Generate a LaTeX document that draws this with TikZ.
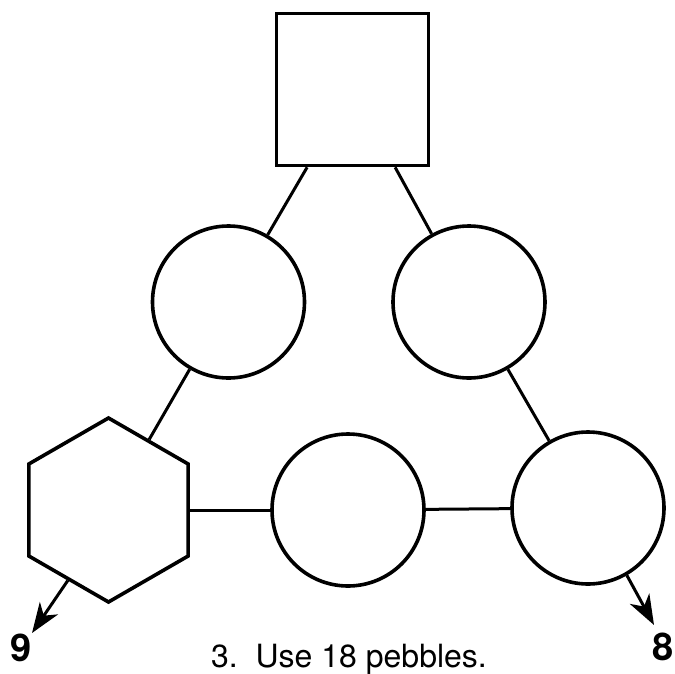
\documentclass[tikz,border=0pt]{standalone}
\usepackage{fontspec}
\setmainfont{TeX Gyre Heros}
\usetikzlibrary{shapes.geometric}
\usetikzlibrary{arrows.meta}

\begin{document}
\begin{tikzpicture}[
      x=1pt, y=-1pt,
      square_cell/.style={draw, line width=3.6pt, minimum size=152pt, inner sep=0pt},
      round_cell/.style={circle, draw, line width=3.6pt, minimum size=152pt, inner sep=0pt},
      hex_cell/.style={regular polygon, regular polygon sides=6, shape border rotate=30,
                       draw, line width=3.6pt, minimum size=184pt, inner sep=0pt},
      link_line/.style={line width=3pt},
      count_arrow/.style={line width=3pt, -{Stealth[length=30pt,width=22pt,inset=9pt]}},
      count_label/.style={anchor=base, font=\fontsize{38}{40}\selectfont\bfseries},
      caption_text/.style={anchor=base, font=\fontsize{32}{38}\selectfont}
    ]

    % ------------------------------------------------------------------ %
    % Page frame
    % ------------------------------------------------------------------ %

    \useasboundingbox (0,0) rectangle (675,673);


    % ------------------------------------------------------------------ %
    % Draw the cells
    % ------------------------------------------------------------------ %

    % top of the triangle
    \node[square_cell] (top) at (352.5,89.5) {};

    % middle row
    \node[round_cell] (midleft) at (228.5,302) {};
    \node[round_cell] (midright) at (469,302) {};

    % bottom row
    \node[hex_cell] (botleft) at (108.5,510) {};
    \node[round_cell] (botmid) at (348,510) {};
    \node[round_cell] (botright) at (588,508) {};

    % ------------------------------------------------------------------ %
    % Links between the cells
    % ------------------------------------------------------------------ %

    \draw[link_line] (top) -- (midleft);
    \draw[link_line] (top) -- (midright);
    \draw[link_line] (midleft) -- (botleft);
    \draw[link_line] (midright) -- (botright);
    \draw[link_line] (botleft) -- (botmid);
    \draw[link_line] (botmid) -- (botright);

    % arrows to the counts
    \coordinate (tip_nine) at (32,633);
    \coordinate (tip_eight) at (654,625);
    \draw[count_arrow] (botleft.-120) -- (tip_nine);
    \draw[count_arrow] (botright.-60) -- (tip_eight);

    % ------------------------------------------------------------------ %
    % Annotations
    % ------------------------------------------------------------------ %
    \node[count_label] (nine) at (21,661) {9};
    \node[count_label] (eight) at (663.5,660) {8};
    \node[caption_text] (caption) at (349,667) {3.\ \ Use 18 pebbles.};

\end{tikzpicture}
\end{document}
